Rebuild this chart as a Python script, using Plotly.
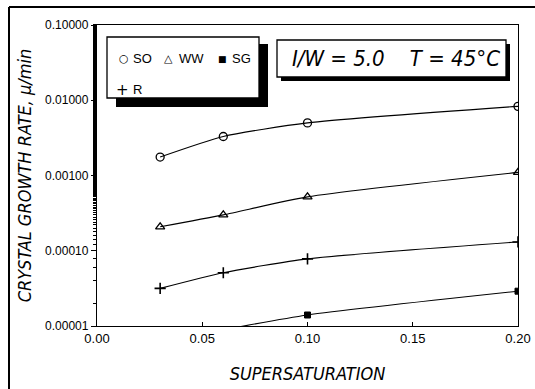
import plotly.graph_objects as go

# ---- data ----
supersat = [0.03, 0.06, 0.10, 0.20]
so_rate = [0.00176, 0.0033, 0.0050, 0.0083]
ww_rate = [0.000208, 0.00030, 0.00052, 0.00110]
r_rate = [0.0000316, 0.000051, 0.000078, 0.000131]
sg_x = [0.06, 0.10, 0.20]
sg_rate = [0.0000089, 0.000014, 0.000029]

series_names = ["SO", "WW", "SG", "R"]
legend_glyphs = ["○", "△", "■", "+"]

x_ticks = [0.0, 0.05, 0.10, 0.15, 0.20]
x_ticktext = ["0.00", "0.05", "0.10", "0.15", "0.20"]
y_ticks = [1e-5, 1e-4, 1e-3, 1e-2, 1e-1]
y_ticktext = ["0.00001", "0.00010", "0.00100", "0.01000", "0.10000"]

W, H = 535, 389
ML, MR, MT, MB = 97, 17, 25, 63
PW, PH = W - ML - MR, H - MT - MB


def px(x):
    return (x - ML) / PW


def py(y):
    return (H - MB - y) / PH


TITLE_FONT = "DejaVu Sans Condensed, Liberation Sans Narrow, Arial Narrow, sans-serif"
TICK_FONT = "Liberation Sans, Arial, sans-serif"

fig = go.Figure()
line = dict(color="black", width=1.1, shape="spline", smoothing=0.6)

markers = [
    dict(symbol="circle-open", size=8, color="black", line=dict(width=1.3, color="black")),
    dict(symbol="triangle-up-open", size=8, color="black", line=dict(width=1.3, color="black")),
    dict(symbol="square", size=6, color="black", line=dict(width=1, color="black")),
    dict(symbol="cross-thin-open", size=8, color="black", line=dict(width=1.6, color="black")),
]
xs_list = [supersat, supersat, sg_x, supersat]
ys_list = [so_rate, ww_rate, sg_rate, r_rate]

for name, xs, ys, mk in zip(series_names, xs_list, ys_list, markers):
    fig.add_trace(go.Scatter(x=xs, y=ys, name=name, mode="lines+markers",
                             line=line, marker=mk, showlegend=False))

# hand-drawn style legend inside a shadowed box (as in the original plot)
leg_font = dict(family="Liberation Sans, Arial, sans-serif", size=13, color="black")
glyph_pos = [(124, 59), (168, 59), (222, 59), (122, 90)]
label_pos = [(131, 59), (177, 59), (230, 59), (131, 90)]
glyph_size = [11, 11, 9, 15]

annotations = []
for g, name, (gx, gy), (lx, ly), gs in zip(legend_glyphs, series_names,
                                           glyph_pos, label_pos, glyph_size):
    annotations.append(dict(text=g, xref="paper", yref="paper", x=px(gx), y=py(gy),
                            xanchor="center", yanchor="middle", showarrow=False,
                            font=dict(family="DejaVu Sans, sans-serif", size=gs,
                                      color="black")))
    annotations.append(dict(text=name, xref="paper", yref="paper", x=px(lx), y=py(ly),
                            xanchor="left", yanchor="middle", showarrow=False,
                            font=leg_font))

annotations.append(dict(text="<i>I/W = 5.0    T = 45°C</i>", xref="paper", yref="paper",
                        x=px(396), y=py(58.5), xanchor="center", yanchor="middle",
                        showarrow=False,
                        font=dict(family=TITLE_FONT, size=22, color="black")))

shapes = []
# outer frame lines
shapes.append(dict(type="line", xref="paper", yref="paper",
                   x0=px(9), x1=px(9), y0=py(7), y1=py(389),
                   line=dict(color="black", width=2)))
shapes.append(dict(type="line", xref="paper", yref="paper",
                   x0=px(9), x1=px(535), y0=py(7), y1=py(7),
                   line=dict(color="black", width=2)))
# legend box with shadow
shapes.append(dict(type="rect", xref="paper", yref="paper",
                   x0=px(116), x1=px(268), y0=py(107), y1=py(44),
                   fillcolor="black", line=dict(width=0), layer="above"))
shapes.append(dict(type="rect", xref="paper", yref="paper",
                   x0=px(107), x1=px(259), y0=py(98), y1=py(37),
                   fillcolor="white", line=dict(color="black", width=1.3), layer="above"))
# condition box with shadow
shapes.append(dict(type="rect", xref="paper", yref="paper",
                   x0=px(281), x1=px(510), y0=py(81), y1=py(44),
                   fillcolor="black", line=dict(width=0), layer="above"))
shapes.append(dict(type="rect", xref="paper", yref="paper",
                   x0=px(277), x1=px(506), y0=py(77), y1=py(40),
                   fillcolor="white", line=dict(color="black", width=1.3), layer="above"))

fig.update_layout(
    width=W, height=H,
    margin=dict(l=ML, r=MR, t=MT, b=MB, autoexpand=False),
    paper_bgcolor="white", plot_bgcolor="white",
    showlegend=False,
    shapes=shapes,
    annotations=annotations,
    xaxis=dict(
        range=[0, 0.2], tickvals=x_ticks, ticktext=x_ticktext,
        ticks="inside", ticklen=4, tickcolor="black",
        showline=True, linecolor="black", linewidth=1.3, mirror=True,
        showgrid=False, zeroline=False,
        tickfont=dict(family=TICK_FONT, size=13, color="black"),
        title=dict(text="<i>SUPERSATURATION</i>", standoff=22,
                   font=dict(family=TITLE_FONT, size=18, color="black")),
    ),
    yaxis=dict(
        type="log", range=[-5, -1], tickvals=y_ticks, ticktext=y_ticktext,
        ticks="outside", ticklen=5, tickcolor="black",
        minor=dict(ticks="outside", ticklen=3, tickcolor="black", showgrid=False),
        showline=True, linecolor="black", linewidth=1.3, mirror=True,
        showgrid=False, zeroline=False,
        tickfont=dict(family=TICK_FONT, size=12, color="black"),
        title=dict(text="<i>CRYSTAL GROWTH RATE, μ/min</i>", standoff=8,
                   font=dict(family=TITLE_FONT, size=18, color="black")),
    ),
)

fig.write_html("out.html", config={"displayModeBar": False},
               post_script="document.body.style.margin='0';document.body.style.overflow='hidden';")
